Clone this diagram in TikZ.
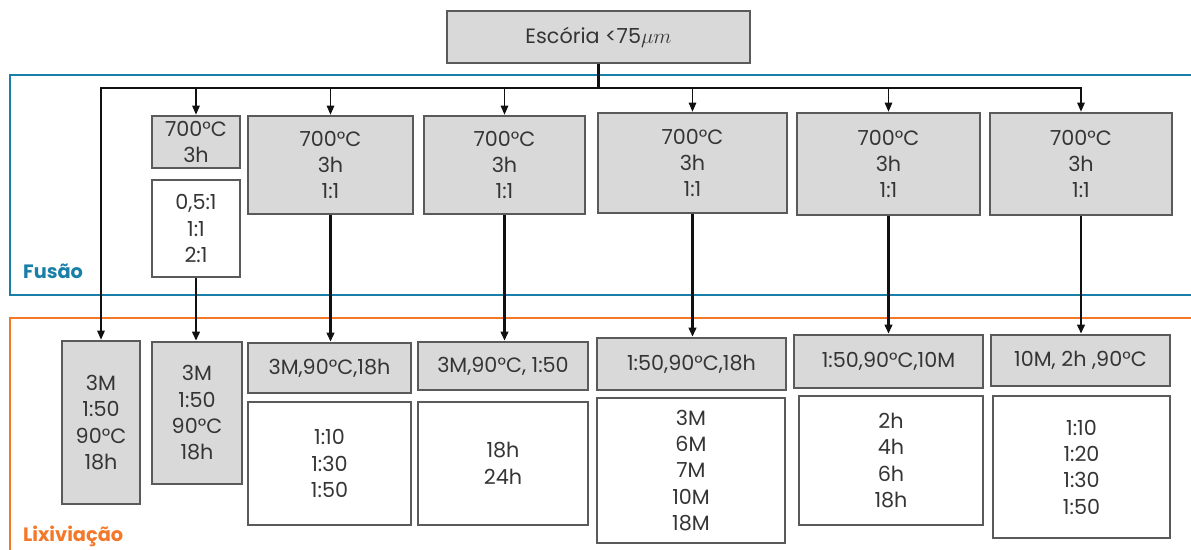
\documentclass[tikz,border=0pt]{standalone}
\usepackage{fontspec}
\setmainfont{Poppins}
\usepackage{xcolor}
\usepackage{tikz}
\usetikzlibrary{
    arrows.meta,
    positioning,
    calc
}
\definecolor{ink}       {HTML}{111111}
\definecolor{boxline}   {HTML}{5A5A5A}
\definecolor{boxfill}   {HTML}{D9D9D9}
\definecolor{fusao}     {HTML}{1A7FA8}
\definecolor{lixi}      {HTML}{F4782A}

\begin{document}
\begin{tikzpicture}[
    x=0.02cm, y=-0.02cm,
    line cap=butt, line join=miter,
    >={Triangle[length=1.8mm, width=1.5mm]},
    %% --- semantic styles ---
    greybox/.style    = {rectangle, draw=boxline, fill=boxfill, line width=1.5pt,
                         align=center, inner sep=2pt, text=ink!85,
                         font=\fontsize{11.8}{15}\selectfont},
    whitebox/.style   = {greybox, fill=white},
    feed/.style       = {->, draw=ink, line width=0.7pt},
    route/.style      = {->, draw=ink, line width=1.4pt},
    stageframe/.style = {draw=#1, line width=1.6pt},
    stagelabel/.style = {font=\fontsize{11}{13}\selectfont\bfseries, anchor=west}
]
\useasboundingbox (0,0) rectangle (1191,550);

%% =====================================================
%% Stage frames
%% =====================================================
\draw[stageframe=fusao] (1200,75) -- (10,75) -- (10,295) -- (1200,295);
\draw[stageframe=lixi]  (1200,318) -- (10,318) -- (10,560);
\node[stagelabel, text=fusao] (FUSLBL) at (17,271) {Fusão};
\node[stagelabel, text=lixi]  (LIXLBL) at (17,536) {Lixiviação};

%% =====================================================
%% INPUT
%% =====================================================
\node[greybox, minimum width=6.06cm, minimum height=1.04cm] (ESC) at (598.5,37)
    {Escória <75$\mu m$};

%% =====================================================
%% FUSION boxes
%% =====================================================
\node[greybox, minimum width=1.76cm, minimum height=1.04cm] (F1) at (196,142)
    {700°C\\3h};
\node[whitebox, minimum width=1.76cm, minimum height=1.94cm] (F1b) at (196,228.5)
    {0,5:1\\1:1\\2:1};
\node[greybox, minimum width=3.30cm, minimum height=1.96cm] (F2) at (330.5,165)
    {700°C\\3h\\1:1};
\node[greybox, minimum width=3.22cm, minimum height=1.96cm] (F3) at (504.5,165)
    {700°C\\3h\\1:1};
\node[greybox, minimum width=3.78cm, minimum height=2.00cm] (F4) at (692.5,163)
    {700°C\\3h\\1:1};
\node[greybox, minimum width=3.66cm, minimum height=2.04cm] (F5) at (888.5,164)
    {700°C\\3h\\1:1};
\node[greybox, minimum width=3.64cm, minimum height=2.04cm] (F6) at (1081,164)
    {700°C\\3h\\1:1};

%% =====================================================
%% LEACHING boxes
%% =====================================================
\node[greybox, minimum width=1.56cm, minimum height=3.26cm] (L0) at (101,422.5)
    {3M\\1:50\\90°C\\18h};
\node[greybox, minimum width=1.80cm, minimum height=2.84cm] (L1) at (197,413)
    {3M\\1:50\\90°C\\18h};

\node[greybox, minimum width=3.26cm, minimum height=1.00cm] (L2) at (329.5,368)
    {3M,90°C,18h};
\node[whitebox, minimum width=3.26cm, minimum height=2.46cm] (L2b) at (329.5,463.5)
    {1:10\\1:30\\1:50};

\node[greybox, minimum width=3.40cm, minimum height=0.96cm] (L3) at (503,366)
    {3M,90°C, 1:50};
\node[whitebox, minimum width=3.40cm, minimum height=2.46cm] (L3b) at (503,463.5)
    {18h\\24h};

\node[greybox, minimum width=3.78cm, minimum height=1.04cm] (L4) at (691.5,364)
    {1:50,90°C,18h};
\node[whitebox, minimum width=3.76cm, minimum height=2.90cm] (L4b) at (691,470.5)
    {3M\\6M\\7M\\10M\\18M};

\node[greybox, minimum width=3.78cm, minimum height=1.06cm] (L5) at (888.5,361.5)
    {1:50,90°C,10M};
\node[whitebox, minimum width=3.68cm, minimum height=2.58cm] (L5b) at (891,460.5)
    {2h\\4h\\6h\\18h};

\node[greybox, minimum width=3.58cm, minimum height=1.02cm] (L6) at (1080.5,360.5)
    {10M, 2h ,90°C};
\node[whitebox, minimum width=3.54cm, minimum height=2.84cm] (L6b) at (1081.5,467)
    {1:10\\1:20\\1:30\\1:50};

%% =====================================================
%% Connectors
%% =====================================================
\coordinate (SPLIT) at (598.5,88);
\draw[draw=ink, line width=1.4pt] (ESC.south) -- (SPLIT);
\draw[feed] (SPLIT) -| (L0.north);
\foreach \F in {F1, F2, F3, F4, F5, F6}
    \draw[feed] (SPLIT) -| (\F.north);

\draw[route] (F1b.south) -- (F1b.south |- L1.north);
\foreach \F/\L in {F2/L2, F3/L3, F4/L4, F5/L5, F6/L6}
    \draw[route] (\F.south) -- (\F.south |- \L.north);

\end{tikzpicture}
\end{document}
